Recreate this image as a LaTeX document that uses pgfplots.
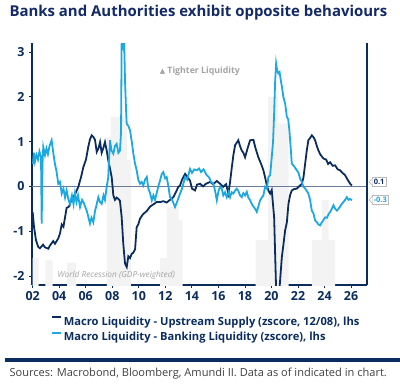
\documentclass[border=0pt]{standalone}
\usepackage{pgfplots}
\pgfplotsset{compat=1.18}
\usepackage{fontspec}
\setmainfont{Open Sans}
\newfontfamily\dejavu{DejaVu Sans}
\definecolor{navy}{HTML}{0B2D5E}
\definecolor{titlenavy}{HTML}{142A66}
\definecolor{lblue}{HTML}{1DA8E0}
\definecolor{recess}{HTML}{F3F3F3}
\definecolor{zeroline}{HTML}{6B7A99}
\definecolor{annot}{HTML}{A3A3A3}
\begin{document}
\begin{tikzpicture}
\begin{axis}[
  scale only axis, width=335bp, height=242bp,
  xmin=1.95, xmax=27.2, ymin=-2.2, ymax=3.2,
  axis x line=bottom, axis y line=left,
  axis line style={-, navy, line width=1.1bp},
  tick align=outside,
  major tick length=3bp,
  tick style={navy, line width=0.8bp},
  xtick={2,4,...,26},
  xticklabels={02,04,06,08,10,12,14,16,18,20,22,24,26},
  ytick={-2,-1,0,1,2,3},
  /pgf/number format/assume math mode=true,
  ticklabel style={font=\fontsize{12.5}{14}\selectfont\bfseries, text=navy},
  yticklabel style={xshift=-1bp},
  clip=true,
  legend style={at={(0.054,-0.118)}, anchor=north west, draw=none, fill=none,
    font=\fontsize{11.2}{13}\selectfont\bfseries, text=navy,
    row sep=1.5bp, inner sep=1bp, cells={anchor=west}},
  legend cell align=left,
  legend image code/.code={\draw[#1, line width=1.6bp] (0,0) -- (9bp,0);},
  after end axis/.code={
    \draw[navy, line width=1.1bp] (rel axis cs:1,0) -- (rel axis cs:1,1);
  },
]
\addplot[fill=recess, draw=none, forget plot] coordinates {
(2.0,-2.3) (2.0,-1.6) (2.45,-1.6) (2.45,-2.3)
(2.95,-2.3) (2.95,-1.65) (3.5,-1.65) (3.5,-2.3)
(4.6,-2.3) (4.6,-1.7) (5.3,-1.7) (5.3,-2.3)
(7.6,-2.3) (7.6,1.1) (7.9,1.1) (7.9,1.55) (9.1,1.55) (9.1,0.6) (9.4,0.6) (9.4,-2.3)
(11.6,-2.3) (11.6,-1.6) (12.1,-1.6) (12.1,-0.45) (13.0,-0.45) (13.0,-0.75) (13.3,-0.75) (13.3,-2.3)
(18.8,-2.3) (18.8,-1.2) (19.75,-1.2) (19.75,2.0) (20.5,2.0) (20.5,1.4) (21.3,1.4) (21.3,-2.3)
(23.05,-2.3) (23.05,-1.2) (23.8,-1.2) (23.8,-0.3) (24.3,-0.3) (24.3,-1.2) (24.8,-1.2) (24.8,-2.3)
};
\draw[zeroline, line width=0.8bp] (axis cs:1.95,0) -- (axis cs:27.2,0);
\node[font=\fontsize{8.3}{10}\selectfont\itshape, text=annot] at (axis cs:8.3,-1.98) {World Recession (GDP-weighted)};
\node[font=\fontsize{8.8}{10}\selectfont\bfseries, text=annot] at (axis cs:14.6,2.57) {{\dejavu\fontsize{7}{8}\selectfont ▲} Tighter Liquidity};
\addplot[navy, line width=1.8bp] coordinates {
(2.0,-0.57) (2.1,-0.9) (2.25,-1.2) (2.42,-1.35) (2.55,-1.38) (2.78,-1.30) (2.93,-1.36)
(3.18,-1.39) (3.3,-1.32) (3.55,-1.22) (3.68,-1.28) (3.93,-1.16) (4.06,-1.05) (4.19,-0.85)
(4.32,-0.9) (4.56,-0.48) (4.74,-0.45) (4.94,-0.28) (5.19,-0.18) (5.44,-0.01) (5.64,0.2)
(5.82,0.43) (6.02,0.6) (6.19,0.88) (6.32,1.05) (6.45,1.14) (6.58,1.1) (6.7,1.04)
(6.83,0.77) (6.96,0.85) (7.08,0.99) (7.2,0.75) (7.32,0.85) (7.45,0.99) (7.58,0.8)
(7.7,0.58) (7.83,0.4) (7.96,0.2) (8.08,-0.2) (8.2,-0.3) (8.33,-0.25) (8.46,-0.28)
(8.58,-0.32) (8.71,-0.69) (8.83,-1.28) (8.96,-1.72) (9.09,-1.8) (9.21,-1.56) (9.34,-1.6)
(9.47,-1.5) (9.59,-1.48) (9.72,-1.4) (9.84,-0.91) (9.96,-0.85) (10.09,-0.72) (10.32,-0.62)
(10.6,-0.55) (10.85,-0.45) (11.1,-0.4) (11.35,-0.35) (11.6,-0.35) (11.85,-0.33) (12.1,-0.36)
(12.35,-0.3) (12.6,-0.24) (12.81,-0.12) (12.98,-0.01) (13.11,0.02) (13.26,0.15) (13.49,0.28)
(13.64,0.22) (13.86,0.13) (14.01,-0.05) (14.24,-0.09) (14.39,0.04) (14.62,0.06) (14.84,0.0)
(15.07,0.06) (15.37,0.1) (15.6,0.05) (15.88,0.12) (16.13,0.06) (16.37,-0.01) (16.58,0.05)
(16.75,-0.16) (16.88,0.1) (17.0,0.4) (17.13,0.7) (17.26,0.92) (17.5,1.03) (17.63,0.9)
(17.76,0.8) (17.88,0.75) (18.01,0.65) (18.2,0.85) (18.39,1.03) (18.64,1.04) (18.8,0.85)
(19.01,0.65) (19.22,0.5) (19.39,0.36) (19.52,0.2) (19.65,0.02) (19.78,-0.1) (19.9,-0.16)
(20.02,-0.08) (20.2,-0.69) (20.35,-2.3) (20.6,-2.3) (20.78,-1.58) (20.9,-1.3) (21.03,-0.98)
(21.16,-0.8) (21.28,-0.39) (21.4,-0.2) (21.53,-0.09) (21.7,-0.06) (21.91,-0.05) (22.08,0.0)
(22.29,0.06) (22.41,0.2) (22.54,0.51) (22.66,0.8) (22.78,1.03) (22.91,1.08) (23.04,1.14)
(23.16,1.1) (23.29,1.03) (23.42,0.9) (23.54,0.8) (23.67,0.72) (23.92,0.62) (24.12,0.6)
(24.27,0.5) (24.42,0.54) (24.61,0.46) (24.8,0.47) (24.99,0.38) (25.17,0.36) (25.36,0.3)
(25.55,0.25) (25.74,0.15) (25.93,0.06) (26.06,0.02)
};
\addlegendentry{Macro Liquidity - Upstream Supply (zscore, 12/08), lhs}
\addplot[lblue, line width=1.8bp] coordinates {
(2.02,0.5) (2.1,0.75) (2.17,0.55) (2.29,0.7) (2.4,0.6) (2.51,0.78) (2.63,0.65)
(2.68,-0.83) (2.74,0.5) (2.8,0.88) (2.93,0.7) (3.04,0.85) (3.15,0.72) (3.27,0.9)
(3.43,1.03) (3.53,0.8) (3.68,0.5) (3.79,0.35) (3.93,0.06) (4.06,0.1) (4.19,-0.16)
(4.32,-0.05) (4.44,-0.25) (4.56,-0.09) (4.7,-0.3) (4.81,-0.39) (4.96,-0.2) (5.08,-0.4)
(5.19,-0.15) (5.3,-0.35) (5.42,-0.2) (5.57,-0.46) (5.72,-0.3) (5.87,-0.38) (6.07,-0.54)
(6.17,-0.65) (6.32,-0.83) (6.43,-0.7) (6.57,-0.8) (6.7,-0.55) (6.81,-0.42) (6.95,-0.24)
(7.08,-0.35) (7.2,-0.39) (7.34,-0.2) (7.45,-0.3) (7.58,-0.01) (7.7,0.21) (7.83,1.03)
(7.94,0.8) (8.08,0.73) (8.2,0.9) (8.33,0.95) (8.46,0.75) (8.58,0.8) (8.66,1.2)
(8.71,3.3) (8.81,3.15) (8.89,3.3) (8.96,2.37) (9.04,1.7) (9.09,1.4) (9.21,1.35)
(9.34,1.25) (9.47,1.0) (9.59,0.73) (9.72,0.5) (9.84,0.36) (9.96,0.15) (10.09,0.06)
(10.22,0.1) (10.34,0.02) (10.47,0.15) (10.6,0.21) (10.72,-0.05) (10.85,-0.15) (10.98,-0.31)
(11.1,-0.2) (11.22,-0.3) (11.35,-0.15) (11.47,0.0) (11.6,0.13) (11.73,0.28) (11.85,0.32)
(11.98,0.18) (12.1,0.21) (12.23,0.0) (12.35,-0.24) (12.51,-0.3) (12.73,-0.46) (12.88,-0.35)
(13.11,-0.16) (13.26,-0.05) (13.49,0.21) (13.64,0.15) (13.86,0.39) (14.01,0.3) (14.17,0.38)
(14.37,0.36) (14.54,0.4) (14.69,0.32) (14.88,0.38) (15.12,0.25) (15.3,0.2) (15.45,0.1)
(15.62,0.06) (15.75,-0.1) (15.88,-0.31) (16.01,-0.1) (16.13,0.0) (16.25,-0.05) (16.37,-0.2)
(16.5,-0.13) (16.63,-0.24) (16.77,-0.12) (16.88,-0.24) (17.0,-0.13) (17.13,-0.16) (17.26,-0.09)
(17.38,-0.05) (17.5,-0.1) (17.63,-0.2) (17.76,-0.24) (17.88,-0.15) (18.01,-0.2) (18.14,-0.12)
(18.26,-0.25) (18.39,-0.31) (18.51,-0.39) (18.64,-0.45) (18.77,-0.5) (18.89,-0.57) (19.01,-0.45)
(19.14,-0.31) (19.27,-0.25) (19.39,-0.2) (19.52,-0.01) (19.65,-0.05) (19.77,0.21) (19.9,0.25)
(20.02,0.65) (20.12,1.0) (20.2,1.62) (20.27,2.3) (20.35,2.74) (20.42,2.6) (20.52,2.52)
(20.61,2.55) (20.7,2.37) (20.8,2.2) (20.9,1.99) (21.03,1.85) (21.16,1.55) (21.26,1.5)
(21.35,1.25) (21.44,0.9) (21.53,0.51) (21.7,0.45) (21.91,0.36) (22.04,0.3) (22.16,0.17)
(22.29,0.1) (22.41,-0.01) (22.54,-0.05) (22.66,-0.1) (22.78,-0.16) (22.91,-0.3) (23.04,-0.54)
(23.16,-0.6) (23.29,-0.76) (23.42,-0.8) (23.54,-0.85) (23.67,-0.87) (23.8,-0.8) (23.92,-0.75)
(24.05,-0.69) (24.18,-0.7) (24.3,-0.62) (24.42,-0.57) (24.55,-0.5) (24.67,-0.42) (24.8,-0.5)
(24.93,-0.54) (25.05,-0.5) (25.17,-0.45) (25.3,-0.39) (25.42,-0.35) (25.55,-0.3) (25.68,-0.24)
(25.8,-0.3) (25.93,-0.28) (26.06,-0.31)
};
\addlegendentry{Macro Liquidity - Banking Liquidity (zscore), lhs}
\coordinate (lab1) at (axis cs:27.2,0.1);
\coordinate (lab2) at (axis cs:27.2,-0.3);
\end{axis}
\foreach \c/\t/\col in {lab1/0.1/navy, lab2/-0.3/lblue}{
  \node[anchor=west, draw=gray!55, fill=white, line width=0.6bp, inner sep=1.5bp,
        font=\fontsize{7.5}{9}\selectfont\bfseries, text=\col] (tag) at ([xshift=5bp]\c) {\t};
  \fill[white] ([xshift=0.5bp,yshift=3bp]tag.west) -- ([xshift=-3bp]tag.west) -- ([xshift=0.5bp,yshift=-3bp]tag.west) -- cycle;
  \draw[gray!55, line width=0.6bp] ([yshift=3bp]tag.west) -- ([xshift=-3bp]tag.west) -- ([yshift=-3bp]tag.west);
}
\node[anchor=west, font=\fontsize{15}{17}\selectfont\bfseries, text=titlenavy] at (-26bp,272bp) {Banks and Authorities exhibit opposite behaviours};
\fill[navy] (-27bp,-77bp) rectangle (368bp,-73bp);
\node[anchor=west, font=\fontsize{11.1}{13}\selectfont, text=black!75] at (-26bp,-89bp) {Sources: Macrobond, Bloomberg, Amundi II. Data as of indicated in chart.};
\path[use as bounding box] (-32bp,-99bp) rectangle (368bp,285bp);
\end{tikzpicture}
\end{document}
